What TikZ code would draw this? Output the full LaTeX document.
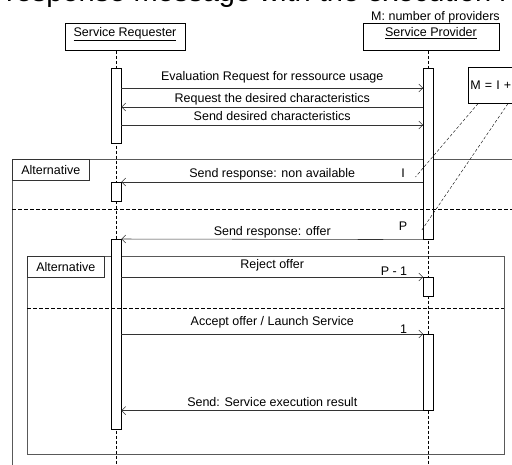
\documentclass[tikz,border=0pt]{standalone}
\usepackage{fontspec}
\setmainfont{Liberation Sans}
\usetikzlibrary{arrows.meta, positioning}
\tikzset{
	every node/.style={font=\fontsize{12.5}{14}\selectfont}, % text size of the whole chart
	msg/.style={-{Straight Barb[length=4pt,width=8pt]}, draw=black!80, line width=0.55pt}, % message arrows
	lifeline/.style={dash pattern=on 3pt off 2pt, line width=1pt}, % dashed life lines
	actbar/.style={draw, fill=white, line width=0.6pt, minimum width=10pt, anchor=north, inner sep=0pt}, % activation bars
	actor/.style={draw, line width=0.6pt, anchor=north, minimum height=27pt, text height=8pt, text depth=9pt, inner ysep=5pt},
	frame/.style={draw=black!65, line width=0.6pt}, % combined fragments
	fragtag/.style={draw=black!80, fill=white, line width=0.6pt, anchor=north west, minimum width=77pt, minimum height=21pt, inner sep=0pt},
	altsep/.style={dash pattern=on 4pt off 2pt, line width=1pt}, % separator of the operands
	msglabel/.style={above, text height=8.5pt, text depth=2.5pt, inner sep=1.5pt},
	notelink/.style={dash pattern=on 3pt off 2pt, line width=0.4pt},
}

\begin{document}
\begin{tikzpicture}[x=1pt, y=-1pt]
	\useasboundingbox (0,0) rectangle (512,464);
	\clip (0,0) rectangle (512,464);
	% heading cut off by the top edge
	\node[anchor=base west, font=\fontsize{29}{32}\selectfont, inner sep=0pt] (heading) at (6,1) {response message with the execution result};
	\node (nprov) at (435.5,17) {M: number of providers};
	% actors
	\node[actor, minimum width=120pt] (req) at (125,23) {\underline{Service Requester}};
	\node[actor, minimum width=136pt] (prov) at (431,23) {\underline{Service Provider}};
	% combined fragments
	\draw[frame] (12,520) -- (12,159) -- (530,159);
	\draw[frame] (27,256) rectangle (504,454);
	% life lines
	\draw[lifeline] (req.south -| 116,0) -- (116,470);
	\draw[lifeline] (prov.south -| 428.5,0) -- (428.5,470);
	% activation bars
	\node[actbar, minimum height=75pt] (reqA) at (116,68) {};
	\node[actbar, minimum height=171pt] (provA) at (428.5,68) {};
	\node[actbar, minimum height=19pt] (reqB) at (116,182) {};
	\node[actbar, minimum height=190pt] (reqC) at (116,239) {};
	\node[actbar, minimum height=19pt] (provB) at (428.5,277) {};
	\node[actbar, minimum height=76pt] (provC) at (428.5,334) {};
	% fragment tags and separators
	\node[fragtag] (altA) at (12,159) {Alternative};
	\node[fragtag] (altB) at (27,256) {Alternative};
	\draw[altsep] (12,209) -- (530,209);
	\draw[altsep] (27,308) -- (504,308);
	% messages
	\draw[msg] (reqA.east |- 0,88) -- node[msglabel, yshift=3pt]{Evaluation Request for ressource usage} (provA.west |- 0,88);
	\draw[msg] (provA.west |- 0,107) -- node[msglabel]{Request the desired characteristics} (reqA.east |- 0,107);
	\draw[msg] (reqA.east |- 0,125) -- node[msglabel]{Send desired characteristics} (provA.west |- 0,125);
	\draw[msg] (provA.west |- reqB.north) -- node[msglabel]{Send response: non available} (reqB.north east);
	\draw[msg] (provA.south west) -- node[msglabel]{Send response: offer} (reqC.north east);
	\draw[msg] (reqC.east |- provB.north) -- node[msglabel, yshift=4pt]{Reject offer} (provB.north west);
	\draw[msg] (reqC.east |- provC.north) -- node[msglabel, yshift=4pt]{Accept offer / Launch Service} (provC.north west);
	\draw[msg] (provC.south west) -- node[msglabel]{Send: Service execution result} (reqC.east |- provC.south);
	% counts
	\node[inner sep=0pt] (cntI) at (403,173) {I};
	\node[inner sep=0pt] (cntP) at (403,226) {P};
	\node[inner sep=0pt] (cntR) at (394,271) {P - 1};
	\node[inner sep=0pt] (cntA) at (403.5,329) {1};
	% note
	\node[draw, fill=white, line width=0.6pt, anchor=north west, minimum width=60pt, minimum height=36pt, text width=56pt, inner xsep=2pt, align=left] (note) at (468,67) {M = I +};
	\draw[notelink] ([xshift=10pt]note.south west) -- ([xshift=10.5pt, yshift=-4pt]cntI.east);
	\draw[notelink] ([xshift=40pt]note.south west) -- ([xshift=14.5pt, yshift=-4pt]cntP.east);
\end{tikzpicture}
\end{document}
